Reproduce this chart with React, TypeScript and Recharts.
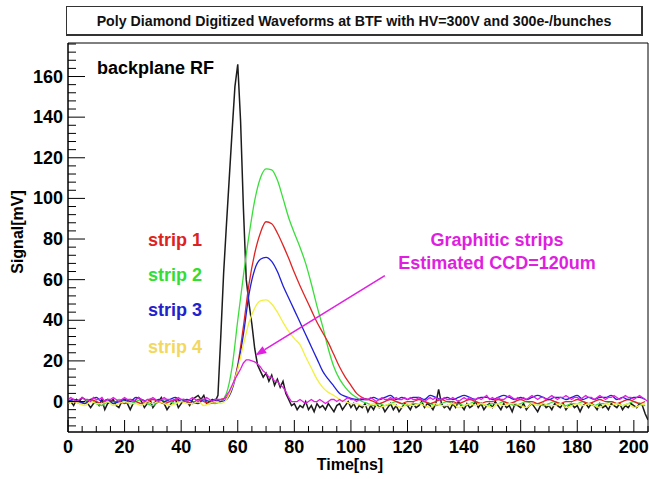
import React from "react";
import { LineChart, Line, XAxis, YAxis, ReferenceLine, ReferenceArea } from "recharts";

const FONT = '"Liberation Sans", Arial, Helvetica, sans-serif';

// sample spacing in ns
const FINE_STEP = 1;
const COARSE_STEP = 2;

// backplane RF, 1 ns samples from 0 to 205 ns
const BACKPLANE = [
  -1, 0, -2, 1, 0, 2, 1, -1, -3, -1, 0, -2, 1, -4, -1, 0, 1, -2, -3, 0,
  1, -1, -4, -1, 1, 2, 0, -3, -1, 1, -3, -1, 0, 2, -1, -4, -2, 0, 1, -3,
  -1, 1, 0, -2, 1, 2, 3, 1, 3, -1, 0, 1, 0,
  3, 32, 63, 87, 110, 133, 155, 166, 138, 95, 60, 48, 38, 26, 18, 15, 12, 14, 10, 13,
  8, 11, 7, 10, 4, 1, -2,
  -1, -4, -2, -3, 0, -4, -2, -5, -1, -3, -2, -4, -1, -3, -5, -2, -1, -4, -2, 0,
  -3, -1, -4, -2, -3, -1, -5, -2, -4, -1, -3,
  -2, -5, -3, -1, -4, -2, -5, -3, -1, -2, -4, -1, -3, -2, 0, -3, -1, -2, -4, -1,
  6, -1, -3, -2, -4, -1, -3, 0, -2, -4, -1, -3, -2, 0, -3, -1, -4, -2, -1, -3,
  0, -2, -4, -1, -3, -2, -5, -1, -2, -3, -1, -4, -2, -1, -3, -5, -2, -1, -3, -2,
  -4, -1, -2, -3, -1, -4, -2, -1, -3, -2, -5, -2, -1, -3, -1, -2, -4, -1, -3, -2,
  -4, -1, -2, -3, -1, -4, -2, -3, -1, -2, -3, -1, -2, -6, -9,
];

// graphitic strips, 1 ns samples from 0 to 205 ns
const GRAPHITIC = [
  1, 2, 1, 0, 1, 2, 1, 1, 0, 2, 1, 1, 2, 0, 1, 1, 2, 1, 0, 1,
  2, 1, 1, 0, 1, 2, 1, 0, 1, 1, 2, 1, 0, 1, 2, 1, 1, 0, 1, 2,
  1, 1, 0, 1, 2, 1, 0, 1, 1, 2, 1, 0, 1, 1, 1,
  1, 3, 5, 8, 11, 13.5, 16, 19, 20.5, 20.5, 20, 19.5, 18.5, 17, 15, 14, 12, 12, 10, 10,
  8, 7, 5, 2, 0, 0,
  0, 1, 0, -1, 0, 1, 0, 0, 1, 0, -1, 0, 1, 1, 0, 1, 0, 1, 2, 1,
  1, 0, 1, 2, 1, 1, 2, 1, 0, 1, 2, 1, 1, 2, 1, 2, 1, 1, 2, 1,
  2, 1, 1, 2, 1, 0, 1, 2, 1, 2, 1, 1, 2, 1, 1, 2, 1, 0, 1, 2,
  1, 2, 1, 1, 2, 1, 2, 3, 1, 2, 1, 2, 1, 1, 2, 3, 2, 1, 2, 1,
  2, 1, 2, 3, 2, 1, 2, 2, 1, 2, 3, 2, 1, 2, 2, 3, 2, 1, 2, 2,
  1, 2, 3, 2, 2, 1, 2, 3, 2, 1, 2, 2, 3, 2, 1, 2, 3, 2, 2, 1,
  2, 3, 2, 1, 0,
];

// strips, 2 ns samples from 0 to 204 ns
const STRIP1 = [
  1, 0, 0, -1, 1, 0, -1, 1, 0, 0, -1, 1, 0, -1, 0, 1, 0, -1, 0, 1,
  0, 0, -1, 1, 0, -1, 0, 1,
  2, 7, 18, 37, 58, 73, 83, 88.5, 87.5, 83, 77, 70.5, 63.5, 57, 51, 45, 39, 34, 29, 23,
  17, 12, 8, 4, 2,
  1, 0, -1, 0, 1, 0, -1, 0, 0, 1, 0, -1, 0, 1, 0, 0, -1, 0, 1, 0,
  -1, 0, 0, 1, 0, -1, 0, 1, 0, 0, -1, 0, 1, 0, -1, 0, 0, 1, 0, -1,
  0, 1, 0, 0, -1, 0, 1, 0, -1, 0,
];

const STRIP2 = [
  0, 1, -1, 0, 1, -1, -2, 0, -1, 1, 0, -1, 0, 1, -1, -2, 0, 1, 0, -1,
  1, 0, -1, 0, 1, 0, -1, 0,
  4, 17, 40, 62, 82, 99, 110, 114.5, 114, 109, 100, 90.5, 83, 76, 68, 58, 47, 37, 26, 17,
  11, 7, 4, 2, 0,
  -1, -2, -1, -2, -1, 0, -1, -2, -1, -1, 0, -1, -2, -1, 0, -1, -1, -2, -1, 0,
  -1, -2, -1, -1, 0, -1, -2, -1, 0, -1, -1, -2, -1, 0, -1, -2, -1, -1, 0, -1,
  -2, -1, -1, 0, -1, -2, -1, 0, -1, -2,
];

const STRIP3 = [
  0, 1, 0, -1, 1, 2, 0, 1, -1, 0, 1, 0, 2, 1, 0, -1, 1, 0, 1, 2,
  0, 1, 0, -1, 1, 0, 1, 0,
  1, 6, 17, 33, 53, 65, 70, 71, 69, 64, 57, 51, 45, 39, 33, 27, 21, 15, 11, 7.5,
  4, 2.5, 1.5, 1, 1,
  1, 2, 1, 2, 3, 1, 2, 1, 2, 2, 1, 3, 2, 1, 2, 1, 2, 3, 2, 1,
  2, 2, 1, 2, 3, 2, 1, 2, 1, 2, 3, 2, 1, 2, 2, 1, 2, 3, 1, 2,
  1, 2, 2, 3, 1, 2, 1, 2, 2, 1,
];

const STRIP4 = [
  -1, 0, -1, -2, 0, -1, -1, 0, -2, -1, 0, -1, -1, -2, 0, -1, 0, -1, -2, -1,
  0, -1, -1, 0, -2, -1, 0, -1,
  1, 7, 16, 28, 39, 46, 49.5, 50, 48, 44, 39, 34.5, 31, 28, 22, 16.5, 11, 7, 4.5, 3,
  1, 0, -1, -1, -2,
  -2, -1, -3, -2, -1, -2, -3, -1, -2, -1, -2, -3, -1, -2, -2, -1, -3, -2, -1, -2,
  -1, -2, -3, -1, -2, -1, -1, -2, -3, -1, -2, -1, -2, -2, -1, -3, -2, -1, -2, -1,
  -2, -3, -1, -2, -1, -2, -1, -3, -2, -1,
];

const X_TICKS = [
  0, 5, 10, 15, 20, 25, 30, 35, 40, 45, 50, 55, 60, 65, 70, 75, 80, 85, 90, 95, 100,
  105, 110, 115, 120, 125, 130, 135, 140, 145, 150, 155, 160, 165, 170, 175, 180, 185,
  190, 195, 200, 205,
];
const Y_TICKS = [
  -12, -8, -4, 0, 4, 8, 12, 16, 20, 24, 28, 32, 36, 40, 44, 48, 52, 56, 60, 64, 68, 72,
  76, 80, 84, 88, 92, 96, 100, 104, 108, 112, 116, 120, 124, 128, 132, 136, 140, 144,
  148, 152, 156, 160, 164, 168, 172, 176,
];

const SERIES = [
  { name: "backplane RF", values: BACKPLANE, step: FINE_STEP, color: "#1c1c1c", curve: "linear", width: 1.5 },
  { name: "strip 2", values: STRIP2, step: COARSE_STEP, color: "#3ade3a", curve: "monotone", width: 1.3 },
  { name: "strip 1", values: STRIP1, step: COARSE_STEP, color: "#e02424", curve: "monotone", width: 1.3 },
  { name: "strip 3", values: STRIP3, step: COARSE_STEP, color: "#2020d8", curve: "monotone", width: 1.3 },
  { name: "strip 4", values: STRIP4, step: COARSE_STEP, color: "#f2f040", curve: "monotone", width: 1.3 },
  { name: "graphitic", values: GRAPHITIC, step: FINE_STEP, color: "#e020e0", curve: "linear", width: 1.3 },
];

const toPoints = (values: number[], step: number) =>
  values.map((v, i) => ({ t: i * step, v }));

function XTick(props: any) {
  const { x, y, payload } = props;
  const major = payload.value % 20 === 0;
  return (
    <g>
      <line x1={x} y1={y} x2={x} y2={y - (major ? 12 : 6)} stroke="#000" />
      {major && payload.value <= 200 && (
        <text x={x} y={y + 15} textAnchor="middle" dominantBaseline="central"
          fontSize={18} fontWeight="bold" fontFamily={FONT} fill="#000">
          {payload.value}
        </text>
      )}
    </g>
  );
}

function YTick(props: any) {
  const { x, y, payload } = props;
  const major = payload.value % 20 === 0;
  return (
    <g>
      <line x1={x} y1={y} x2={x + (major ? 17 : 8)} y2={y} stroke="#000" />
      {major && (
        <text x={x - 5} y={y} textAnchor="end" dominantBaseline="central"
          fontSize={18} fontWeight="bold" fontFamily={FONT} fill="#000">
          {payload.value}
        </text>
      )}
    </g>
  );
}

function Arrow(props: any) {
  const { x1, y1, x2, y2 } = props;
  const a = Math.atan2(y2 - y1, x2 - x1);
  const len = 11, w = 4;
  const bx = x2 - len * Math.cos(a), by = y2 - len * Math.sin(a);
  const px = -Math.sin(a) * w, py = Math.cos(a) * w;
  return (
    <g>
      <line x1={x1} y1={y1} x2={bx} y2={by} stroke="#e020e0" strokeWidth={1.6} />
      <polygon points={`${x2},${y2} ${bx + px},${by + py} ${bx - px},${by - py}`} fill="#e020e0" />
    </g>
  );
}

function Note({ x, y, color, text, center }: { x: number; y: number; color: string; text: string; center?: boolean }) {
  return (
    <div style={{
      position: "absolute", left: x, top: y, transform: `translate(${center ? "-50%" : "0"}, -50%)`,
      color, fontSize: 18, fontWeight: "bold", lineHeight: 1, whiteSpace: "nowrap",
    }}>
      {text}
    </div>
  );
}

export default function App() {
  return (
    <div style={{ position: "absolute", left: 0, top: 0, width: 649, height: 479, background: "#fff", fontFamily: FONT, overflow: "hidden" }}>
      <div style={{
        position: "absolute", left: 66, top: 6, width: 577, height: 30, boxSizing: "border-box",
        border: "1px solid #333", borderRightWidth: 2, borderBottomWidth: 2,
        display: "flex", alignItems: "center", justifyContent: "center",
        fontSize: 14.2, fontWeight: "bold", color: "#111",
      }}>
        Poly Diamond Digitized Waveforms at BTF with HV=300V and 300e-/bunches
      </div>

      <div style={{ position: "absolute", left: 0, top: 0 }}>
        <LineChart width={649} height={479} margin={{ top: 43, right: 1, bottom: 0, left: 0 }}>
          <XAxis dataKey="t" type="number" domain={[0, 205]} ticks={X_TICKS} interval={0}
            allowDataOverflow height={47} tickSize={0} tickMargin={0} tickLine={false}
            axisLine={{ stroke: "#000" }} tick={(p: any) => <XTick {...p} />} />
          <YAxis type="number" domain={[-15, 176.5]} ticks={Y_TICKS} interval={0}
            allowDataOverflow width={68} tickSize={0} tickMargin={0} tickLine={false}
            axisLine={{ stroke: "#000" }} tick={(p: any) => <YTick {...p} />} />
          <ReferenceArea x1={0} x2={205} y1={-15} y2={176.5} fill="none" stroke="#000" strokeWidth={1} />
          {SERIES.map((s) => (
            <Line key={s.name} data={toPoints(s.values, s.step)} dataKey="v" type={s.curve as any}
              stroke={s.color} strokeWidth={s.width} dot={false} isAnimationActive={false} />
          ))}
          <ReferenceLine segment={[{ x: 112, y: 62 }, { x: 66.2, y: 22.7 }]} shape={(p: any) => <Arrow {...p} />} />
        </LineChart>
      </div>

      <div style={{
        position: "absolute", left: 18, top: 232, transform: "translate(-50%, -50%) rotate(-90deg)",
        fontSize: 16, fontWeight: "bold", whiteSpace: "nowrap", lineHeight: 1,
      }}>
        Signal[mV]
      </div>
      <div style={{
        position: "absolute", left: 350, top: 465, transform: "translate(-50%, -50%)",
        fontSize: 16, fontWeight: "bold", whiteSpace: "nowrap", lineHeight: 1,
      }}>
        Time[ns]
      </div>

      <Note x={97} y={68} color="#000" text="backplane RF" />
      <Note x={148} y={240} color="#dd2222" text="strip 1" />
      <Note x={148} y={275} color="#33dd33" text="strip 2" />
      <Note x={148} y={310} color="#2222cc" text="strip 3" />
      <Note x={148} y={347} color="#f2d860" text="strip 4" />
      <Note x={497} y={240} color="#e01ee0" text="Graphitic strips" center />
      <Note x={497} y={263} color="#e01ee0" text="Estimated CCD=120um" center />
    </div>
  );
}
